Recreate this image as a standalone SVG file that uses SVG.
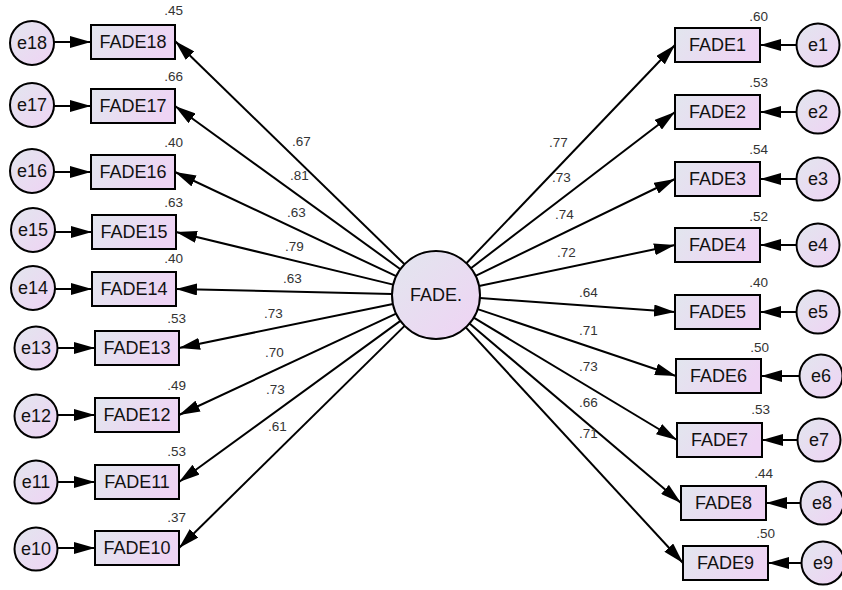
<svg xmlns="http://www.w3.org/2000/svg" width="842" height="590" viewBox="0 0 842 590">
<defs>
<linearGradient id="gf" x1="0" y1="0" x2="1" y2="1">
<stop offset="0" stop-color="#e2e6ee"/>
<stop offset="1" stop-color="#efd3f4"/>
</linearGradient>
<linearGradient id="gb" x1="0" y1="0" x2="1" y2="0.3">
<stop offset="0" stop-color="#e2e6ee"/>
<stop offset="1" stop-color="#eed4f4"/>
</linearGradient>
<marker id="arr" markerUnits="userSpaceOnUse" markerWidth="21" markerHeight="12" refX="21" refY="6" orient="auto">
<path d="M0,0 L21,6 L0,12 z" fill="#000"/>
</marker>
</defs>
<style>
.box{fill:url(#gb);stroke:#000;stroke-width:2}
.err{fill:url(#gf);stroke:#000;stroke-width:2}
.lat{fill:url(#gf);stroke:#000;stroke-width:2}
.lbl{font-family:"Liberation Sans",Arial,sans-serif;font-size:18px;fill:#111;text-anchor:middle;dominant-baseline:central}
.num{font-family:"Liberation Sans",Arial,sans-serif;font-size:13.5px;fill:#333}
.r2{text-anchor:end}
.con line{stroke:#000;stroke-width:2;marker-end:url(#arr)}
</style>
<rect width="842" height="590" fill="#fff"/>

<g id="connectors" class="con">
<line x1="404.5" y1="264.3" x2="175" y2="41"/>
<line x1="400.4" y1="269.2" x2="175" y2="106"/>
<line x1="396.2" y1="276.2" x2="175" y2="172"/>
<line x1="393.2" y1="284.6" x2="176" y2="232"/>
<line x1="392.0" y1="294.0" x2="176" y2="289"/>
<line x1="392.9" y1="303.9" x2="179" y2="348"/>
<line x1="396.1" y1="313.6" x2="179" y2="415"/>
<line x1="400.4" y1="320.9" x2="179" y2="482"/>
<line x1="404.6" y1="325.9" x2="179" y2="548"/>
<line x1="466.4" y1="263.2" x2="675" y2="45"/>
<line x1="470.9" y1="268.2" x2="675" y2="112"/>
<line x1="475.6" y1="275.8" x2="675" y2="179"/>
<line x1="479.1" y1="286.0" x2="675" y2="245"/>
<line x1="479.9" y1="298.1" x2="675" y2="312"/>
<line x1="477.7" y1="309.1" x2="676" y2="376"/>
<line x1="473.7" y1="317.7" x2="677" y2="440"/>
<line x1="469.5" y1="323.5" x2="681" y2="503"/>
<line x1="465.8" y1="327.4" x2="683" y2="563"/>
<line x1="54" y1="42" x2="91" y2="42"/>
<line x1="54" y1="106" x2="91" y2="106"/>
<line x1="54" y1="172" x2="91" y2="172"/>
<line x1="54" y1="232" x2="92" y2="232"/>
<line x1="54" y1="289" x2="92" y2="289"/>
<line x1="57.5" y1="348" x2="95" y2="348"/>
<line x1="57.5" y1="415" x2="95" y2="415"/>
<line x1="57.5" y1="482" x2="95" y2="482"/>
<line x1="57.5" y1="548" x2="95" y2="548"/>
<line x1="796.5" y1="45" x2="760" y2="45"/>
<line x1="796.5" y1="112" x2="760" y2="112"/>
<line x1="796.5" y1="179" x2="760" y2="179"/>
<line x1="796.5" y1="245" x2="760" y2="245"/>
<line x1="796.5" y1="312" x2="760" y2="312"/>
<line x1="799.5" y1="376" x2="761" y2="376"/>
<line x1="797.5" y1="440" x2="762" y2="440"/>
<line x1="800.5" y1="503" x2="766" y2="503"/>
<line x1="801.5" y1="563" x2="768" y2="563"/>
</g>

<g id="loadings" class="num">
<text x="292" y="146">.67</text>
<text x="290" y="180">.81</text>
<text x="287" y="217">.63</text>
<text x="285" y="251">.79</text>
<text x="283" y="283">.63</text>
<text x="264" y="318">.73</text>
<text x="265" y="357">.70</text>
<text x="266" y="394">.73</text>
<text x="268" y="431">.61</text>
<text x="549" y="147">.77</text>
<text x="552" y="182">.73</text>
<text x="555" y="219">.74</text>
<text x="557" y="257">.72</text>
<text x="579" y="297">.64</text>
<text x="579" y="335">.71</text>
<text x="579" y="371">.73</text>
<text x="579" y="407">.66</text>
<text x="579" y="438">.71</text>
</g>

<g id="FADE_latent"><circle class="lat" cx="436" cy="295" r="44"/><text class="lbl" x="436" y="295">FADE.</text></g>

<g id="FADE18"><rect class="box" x="91" y="25" width="84" height="34"/><text class="lbl" x="133" y="42">FADE18</text><text class="num r2" x="183" y="15">.45</text></g>
<g id="FADE17"><rect class="box" x="91" y="89" width="84" height="34"/><text class="lbl" x="133" y="106">FADE17</text><text class="num r2" x="183" y="81">.66</text></g>
<g id="FADE16"><rect class="box" x="91" y="155" width="84" height="34"/><text class="lbl" x="133" y="172">FADE16</text><text class="num r2" x="183" y="147">.40</text></g>
<g id="FADE15"><rect class="box" x="92" y="215" width="84" height="34"/><text class="lbl" x="134" y="232">FADE15</text><text class="num r2" x="183" y="207">.63</text></g>
<g id="FADE14"><rect class="box" x="92" y="272" width="84" height="34"/><text class="lbl" x="134" y="289">FADE14</text><text class="num r2" x="183" y="263">.40</text></g>
<g id="FADE13"><rect class="box" x="95" y="331" width="84" height="34"/><text class="lbl" x="137" y="348">FADE13</text><text class="num r2" x="186" y="323">.53</text></g>
<g id="FADE12"><rect class="box" x="95" y="398" width="84" height="34"/><text class="lbl" x="137" y="415">FADE12</text><text class="num r2" x="186" y="390">.49</text></g>
<g id="FADE11"><rect class="box" x="95" y="465" width="84" height="34"/><text class="lbl" x="137" y="482">FADE11</text><text class="num r2" x="186" y="456">.53</text></g>
<g id="FADE10"><rect class="box" x="95" y="531" width="84" height="34"/><text class="lbl" x="137" y="548">FADE10</text><text class="num r2" x="186" y="522">.37</text></g>

<g id="e18"><circle class="err" cx="32" cy="43" r="22"/><text class="lbl" x="32" y="43">e18</text></g>
<g id="e17"><circle class="err" cx="32" cy="105" r="22"/><text class="lbl" x="32" y="105">e17</text></g>
<g id="e16"><circle class="err" cx="32" cy="171" r="22"/><text class="lbl" x="32" y="171">e16</text></g>
<g id="e15"><circle class="err" cx="33" cy="230" r="22"/><text class="lbl" x="33" y="230">e15</text></g>
<g id="e14"><circle class="err" cx="33" cy="288" r="22"/><text class="lbl" x="33" y="288">e14</text></g>
<g id="e13"><circle class="err" cx="36" cy="348" r="21.5"/><text class="lbl" x="36" y="348">e13</text></g>
<g id="e12"><circle class="err" cx="36" cy="416" r="21.5"/><text class="lbl" x="36" y="416">e12</text></g>
<g id="e11"><circle class="err" cx="36" cy="482" r="21.5"/><text class="lbl" x="36" y="482">e11</text></g>
<g id="e10"><circle class="err" cx="36" cy="549" r="21.5"/><text class="lbl" x="36" y="549">e10</text></g>

<g id="FADE1"><rect class="box" x="675" y="28" width="85" height="34"/><text class="lbl" x="717.5" y="45">FADE1</text><text class="num r2" x="768" y="21">.60</text></g>
<g id="FADE2"><rect class="box" x="675" y="95" width="85" height="34"/><text class="lbl" x="717.5" y="112">FADE2</text><text class="num r2" x="768" y="87">.53</text></g>
<g id="FADE3"><rect class="box" x="675" y="162" width="85" height="34"/><text class="lbl" x="717.5" y="179">FADE3</text><text class="num r2" x="768" y="154">.54</text></g>
<g id="FADE4"><rect class="box" x="675" y="228" width="85" height="34"/><text class="lbl" x="717.5" y="245">FADE4</text><text class="num r2" x="768" y="221">.52</text></g>
<g id="FADE5"><rect class="box" x="675" y="295" width="85" height="34"/><text class="lbl" x="717.5" y="312">FADE5</text><text class="num r2" x="768" y="287">.40</text></g>
<g id="FADE6"><rect class="box" x="676" y="359" width="85" height="34"/><text class="lbl" x="718.5" y="376">FADE6</text><text class="num r2" x="769" y="352">.50</text></g>
<g id="FADE7"><rect class="box" x="677" y="423" width="85" height="34"/><text class="lbl" x="719.5" y="440">FADE7</text><text class="num r2" x="770" y="414">.53</text></g>
<g id="FADE8"><rect class="box" x="681" y="486" width="85" height="34"/><text class="lbl" x="723.5" y="503">FADE8</text><text class="num r2" x="773" y="478">.44</text></g>
<g id="FADE9"><rect class="box" x="683" y="546" width="85" height="34"/><text class="lbl" x="725.5" y="563">FADE9</text><text class="num r2" x="775" y="538">.50</text></g>

<g id="e1"><circle class="err" cx="818" cy="45" r="21.5"/><text class="lbl" x="818" y="45">e1</text></g>
<g id="e2"><circle class="err" cx="818" cy="112" r="21.5"/><text class="lbl" x="818" y="112">e2</text></g>
<g id="e3"><circle class="err" cx="818" cy="179" r="21.5"/><text class="lbl" x="818" y="179">e3</text></g>
<g id="e4"><circle class="err" cx="818" cy="245" r="21.5"/><text class="lbl" x="818" y="245">e4</text></g>
<g id="e5"><circle class="err" cx="818" cy="312" r="21.5"/><text class="lbl" x="818" y="312">e5</text></g>
<g id="e6"><circle class="err" cx="821" cy="376" r="21.5"/><text class="lbl" x="821" y="376">e6</text></g>
<g id="e7"><circle class="err" cx="819" cy="440" r="21.5"/><text class="lbl" x="819" y="440">e7</text></g>
<g id="e8"><circle class="err" cx="822" cy="503" r="21.5"/><text class="lbl" x="822" y="503">e8</text></g>
<g id="e9"><circle class="err" cx="823" cy="563" r="21.5"/><text class="lbl" x="823" y="563">e9</text></g>
</svg>
